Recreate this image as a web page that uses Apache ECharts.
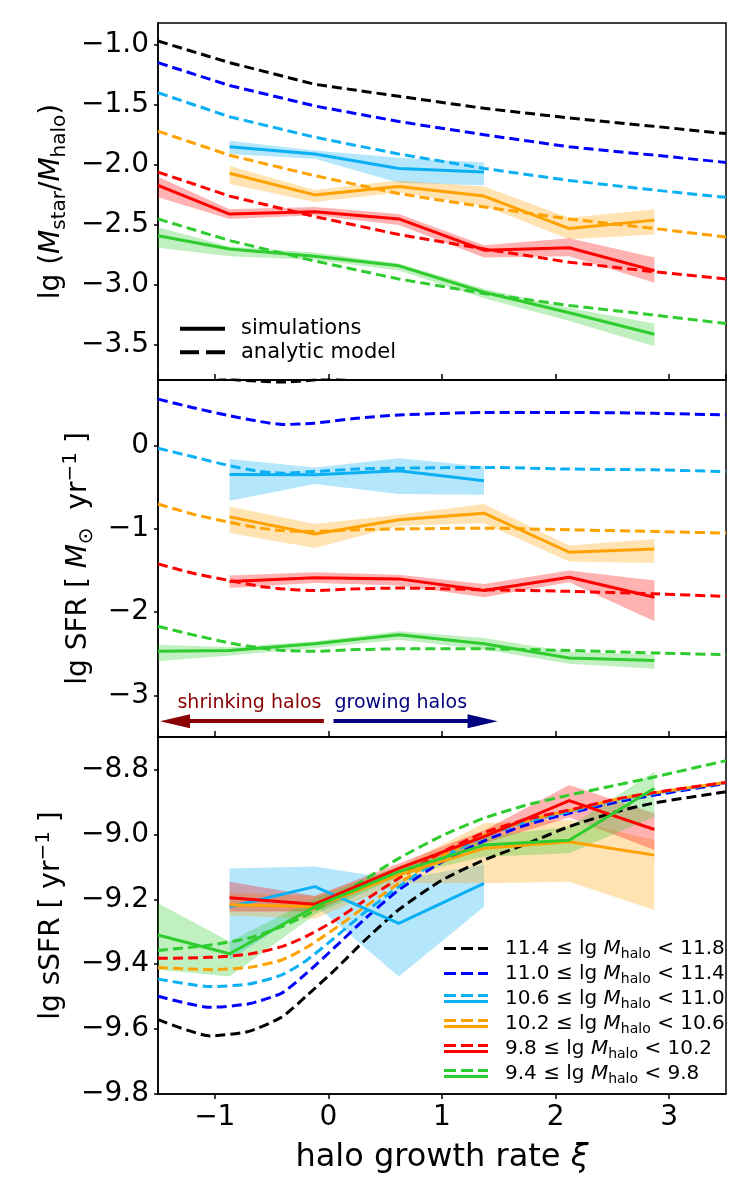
<!DOCTYPE html>
<html><head><meta charset="utf-8">
<script src="https://cdn.jsdelivr.net/npm/echarts@6/dist/echarts.min.js"></script>
<style>html,body{margin:0;padding:0;background:#fff}#c{width:750px;height:1200px}</style>
</head><body><div id="c"></div>
<script>
// ---------- DATA ----------
const binNames = ['11.4 ≤ lg Mhalo < 11.8','11.0 ≤ lg Mhalo < 11.4','10.6 ≤ lg Mhalo < 11.0','10.2 ≤ lg Mhalo < 10.6','9.8 ≤ lg Mhalo < 10.2','9.4 ≤ lg Mhalo < 9.8'];
const binLabelParts = [['11.4','11.8'],['11.0','11.4'],['10.6','11.0'],['10.2','10.6'],['9.8','10.2'],['9.4','9.8']];

// x positions of simulation bins (halo growth rate xi)
const xSim = [-1.5, -0.87, -0.12, 0.62, 1.37, 2.12, 2.87];

// Panel 1: lg(Mstar/Mhalo) analytic model
const xModelRatio = [-1.5, -0.87, -0.12, 0.62, 1.37, 2.12, 2.87, 3.5];
const ratioModelBin0 = [-0.97, -1.15, -1.33, -1.43, -1.53, -1.61, -1.68, -1.74];
const ratioModelBin1 = [-1.15, -1.34, -1.51, -1.64, -1.75, -1.85, -1.92, -1.98];
const ratioModelBin2 = [-1.40, -1.60, -1.77, -1.91, -2.03, -2.13, -2.21, -2.27];
const ratioModelBin3 = [-1.72, -1.92, -2.09, -2.24, -2.35, -2.45, -2.53, -2.60];
const ratioModelBin4 = [-2.06, -2.26, -2.43, -2.58, -2.70, -2.81, -2.89, -2.95];
const ratioModelBin5 = [-2.45, -2.63, -2.80, -2.95, -3.07, -3.17, -3.25, -3.32];
// Panel 1 simulations (median, lower, upper)
const ratioSimBin2   = [null, -1.85, -1.91, -2.03, -2.06, null, null];
const ratioSimBin2Lo = [null, -1.91, -1.95, -2.15, -2.17, null, null];
const ratioSimBin2Hi = [null, -1.80, -1.88, -1.94, -1.98, null, null];
const ratioSimBin3   = [null, -2.07, -2.25, -2.18, -2.26, -2.53, -2.46];
const ratioSimBin3Lo = [null, -2.16, -2.31, -2.23, -2.34, -2.62, -2.58];
const ratioSimBin3Hi = [null, -2.01, -2.21, -2.13, -2.18, -2.44, -2.37];
const ratioSimBin4   = [-2.17, -2.41, -2.39, -2.45, -2.71, -2.69, -2.88];
const ratioSimBin4Lo = [-2.27, -2.45, -2.42, -2.50, -2.77, -2.76, -2.98];
const ratioSimBin4Hi = [-2.10, -2.37, -2.35, -2.41, -2.67, -2.61, -2.77];
const ratioSimBin5   = [-2.59, -2.70, -2.76, -2.84, -3.06, -3.23, -3.41];
const ratioSimBin5Lo = [-2.69, -2.76, -2.79, -2.88, -3.11, -3.30, -3.51];
const ratioSimBin5Hi = [-2.52, -2.68, -2.73, -2.82, -3.03, -3.19, -3.32];

// Panel 2: lg SFR analytic model
const xModelSFR = [-1.5, -1.2, -0.87, -0.6, -0.4, -0.13, 0.25, 0.62, 1.37, 2.12, 2.87, 3.5];
const sfrModelBin0 = [1.00, 0.90, 0.80, 0.775, 0.765, 0.79, 0.84, 0.88, 0.92, 0.93, 0.92, 0.90];
const sfrModelBin1 = [0.56, 0.46, 0.36, 0.29, 0.255, 0.27, 0.33, 0.37, 0.40, 0.40, 0.39, 0.37];
const sfrModelBin2 = [-0.03, -0.13, -0.24, -0.31, -0.33, -0.31, -0.28, -0.27, -0.26, -0.28, -0.29, -0.31];
const sfrModelBin3 = [-0.70, -0.82, -0.92, -0.99, -1.02, -1.03, -1.01, -1.00, -0.99, -1.01, -1.03, -1.05];
const sfrModelBin4 = [-1.42, -1.53, -1.62, -1.69, -1.72, -1.74, -1.72, -1.71, -1.73, -1.75, -1.78, -1.81];
const sfrModelBin5 = [-2.17, -2.27, -2.37, -2.43, -2.46, -2.47, -2.45, -2.44, -2.44, -2.46, -2.49, -2.51];
// Panel 2 simulations
const sfrSimBin2   = [null, -0.345, -0.35, -0.30, -0.42, null, null];
const sfrSimBin2Lo = [null, -0.66, -0.46, -0.58, -0.59, null, null];
const sfrSimBin2Hi = [null, -0.16, -0.26, -0.15, -0.25, null, null];
const sfrSimBin3   = [null, -0.855, -1.06, -0.89, -0.81, -1.28, -1.24];
const sfrSimBin3Lo = [null, -1.05, -1.23, -0.96, -0.93, -1.39, -1.41];
const sfrSimBin3Hi = [null, -0.73, -0.94, -0.83, -0.70, -1.20, -1.12];
const sfrSimBin4   = [null, -1.63, -1.585, -1.60, -1.74, -1.58, -1.82];
const sfrSimBin4Lo = [null, -1.71, -1.65, -1.68, -1.82, -1.64, -2.11];
const sfrSimBin4Hi = [null, -1.56, -1.52, -1.55, -1.66, -1.50, -1.62];
const sfrSimBin5   = [-2.47, -2.46, -2.38, -2.27, -2.38, -2.55, -2.58];
const sfrSimBin5Lo = [-2.59, -2.52, -2.43, -2.33, -2.45, -2.62, -2.68];
const sfrSimBin5Hi = [-2.39, -2.42, -2.35, -2.23, -2.31, -2.48, -2.51];

// Panel 3: lg sSFR analytic model
const xModelSSFR = [-1.5, -1.04, -0.7, -0.41, -0.2, 0.05, 0.31, 0.62, 1.0, 1.37, 1.74, 2.12, 2.54, 2.87, 3.5];
const ssfrModelBin0 = [-9.571, -9.621, -9.607, -9.563, -9.500, -9.420, -9.330, -9.232, -9.141, -9.079, -9.030, -8.976, -8.930, -8.903, -8.869];
const ssfrModelBin1 = [-9.499, -9.533, -9.522, -9.489, -9.430, -9.350, -9.264, -9.171, -9.085, -9.020, -8.971, -8.935, -8.900, -8.879, -8.843];
const ssfrModelBin2 = [-9.446, -9.469, -9.461, -9.433, -9.390, -9.320, -9.243, -9.161, -9.072, -9.007, -8.961, -8.930, -8.894, -8.874, -8.841];
const ssfrModelBin3 = [-9.410, -9.417, -9.410, -9.387, -9.350, -9.292, -9.226, -9.151, -9.066, -9.003, -8.958, -8.927, -8.892, -8.872, -8.840];
const ssfrModelBin4 = [-9.382, -9.379, -9.369, -9.346, -9.315, -9.267, -9.206, -9.135, -9.055, -8.995, -8.954, -8.925, -8.891, -8.871, -8.840];
const ssfrModelBin5 = [-9.358, -9.341, -9.320, -9.284, -9.250, -9.200, -9.141, -9.074, -9.004, -8.950, -8.910, -8.879, -8.848, -8.823, -8.773];
// Panel 3 simulations
const ssfrSimBin2   = [null, -9.223, -9.161, -9.274, -9.151, null, null];
const ssfrSimBin2Lo = [null, -9.387, -9.217, -9.438, -9.223, null, null];
const ssfrSimBin2Hi = [null, -9.105, -9.099, -9.140, -9.092, null, null];
const ssfrSimBin3   = [null, -9.217, -9.223, -9.125, -9.043, -9.023, -9.064];
const ssfrSimBin3Lo = [null, -9.250, -9.260, -9.150, -9.151, -9.146, -9.233];
const ssfrSimBin3Hi = [null, -9.180, -9.190, -9.100, -8.966, -8.956, -9.017];
const ssfrSimBin4   = [null, -9.195, -9.215, -9.105, -9.007, -8.896, -8.985];
const ssfrSimBin4Lo = [null, -9.238, -9.238, -9.122, -9.028, -8.948, -9.048];
const ssfrSimBin4Hi = [null, -9.146, -9.190, -9.090, -8.987, -8.848, -8.935];
const ssfrSimBin5   = [-9.310, -9.368, -9.223, -9.115, -9.033, -9.018, -8.858];
const ssfrSimBin5Lo = [-9.417, -9.438, -9.248, -9.130, -9.069, -9.058, -8.946];
const ssfrSimBin5Hi = [-9.212, -9.330, -9.197, -9.099, -9.007, -8.976, -8.807];

// Annotation arrows (panel 2), in data coordinates
const arrowY = -3.31;
const shrinkArrowX = [-1.35, -0.04];
const growArrowX = [0.045, 1.357];

// ---------- STYLE ----------
const FONT = 'DejaVu Sans';
const binColors = ['#000000', '#0000ff', '#0bb0f4', '#ffa200', '#ff0000', '#2ecc2e'];
const bandColors = [null, null, 'rgba(11,176,244,0.3)', 'rgba(255,162,0,0.3)', 'rgba(255,0,0,0.3)', 'rgba(46,204,46,0.3)'];

const panels = [
  { xm: xModelRatio, models: [ratioModelBin0, ratioModelBin1, ratioModelBin2, ratioModelBin3, ratioModelBin4, ratioModelBin5],
    sims: [null, null, [ratioSimBin2, ratioSimBin2Lo, ratioSimBin2Hi], [ratioSimBin3, ratioSimBin3Lo, ratioSimBin3Hi], [ratioSimBin4, ratioSimBin4Lo, ratioSimBin4Hi], [ratioSimBin5, ratioSimBin5Lo, ratioSimBin5Hi]], smooth: false },
  { xm: xModelSFR, models: [sfrModelBin0, sfrModelBin1, sfrModelBin2, sfrModelBin3, sfrModelBin4, sfrModelBin5],
    sims: [null, null, [sfrSimBin2, sfrSimBin2Lo, sfrSimBin2Hi], [sfrSimBin3, sfrSimBin3Lo, sfrSimBin3Hi], [sfrSimBin4, sfrSimBin4Lo, sfrSimBin4Hi], [sfrSimBin5, sfrSimBin5Lo, sfrSimBin5Hi]], smooth: 0.2 },
  { xm: xModelSSFR, models: [ssfrModelBin0, ssfrModelBin1, ssfrModelBin2, ssfrModelBin3, ssfrModelBin4, ssfrModelBin5],
    sims: [null, null, [ssfrSimBin2, ssfrSimBin2Lo, ssfrSimBin2Hi], [ssfrSimBin3, ssfrSimBin3Lo, ssfrSimBin3Hi], [ssfrSimBin4, ssfrSimBin4Lo, ssfrSimBin4Hi], [ssfrSimBin5, ssfrSimBin5Lo, ssfrSimBin5Hi]], smooth: 0.2 }
];

function pairs(xs, ys) {
  const out = [];
  xs.forEach((x, i) => { if (ys[i] !== null && ys[i] !== undefined) out.push([x, ys[i]]); });
  return out;
}
function lineSeries(name, g, data, color, dashed, smooth) {
  return { name, type: 'line', xAxisIndex: g, yAxisIndex: g, data, showSymbol: false, symbol: 'none',
    smooth: smooth || false, clip: true, silent: true, z: dashed ? 3 : 4,
    lineStyle: { color, width: 3, type: dashed ? [10, 5] : 'solid', cap: 'butt', join: 'round' }, itemStyle: { color } };
}
function bandSeries(g, xs, lo, hi, fill) {
  const items = [];
  xs.forEach((x, i) => { if (lo[i] !== null && hi[i] !== null) items.push([x, lo[i], hi[i]]); });
  return { type: 'custom', xAxisIndex: g, yAxisIndex: g, data: items, silent: true, z: 2, clip: true,
    encode: { x: 0, y: [1, 2] },
    renderItem: (params, api) => {
      if (params.dataIndex !== 0) return null;
      const up = items.map(d => api.coord([d[0], d[2]]));
      const dn = items.map(d => api.coord([d[0], d[1]])).reverse();
      return { type: 'polygon', shape: { points: up.concat(dn) }, style: { fill: fill } };
    } };
}

const series = [];
panels.forEach((p, g) => {
  p.sims.forEach((s, b) => { if (s) series.push(bandSeries(g, xSim, s[1], s[2], bandColors[b])); });
  p.models.forEach((m, b) => series.push(lineSeries(binNames[b], g, pairs(p.xm, m), binColors[b], true, p.smooth)));
  p.sims.forEach((s, b) => { if (s) series.push(lineSeries(binNames[b], g, pairs(xSim, s[0]), binColors[b], false, false)); });
});
// dummy series for top legend
series.push({ name: 'simulations', type: 'line', xAxisIndex: 0, yAxisIndex: 0, data: [], itemStyle: { color: '#000' }, lineStyle: { color: '#000' } });
series.push({ name: 'analytic model', type: 'line', xAxisIndex: 0, yAxisIndex: 0, data: [], itemStyle: { color: '#000' }, lineStyle: { color: '#000' } });
// arrows
series.push({ type: 'line', xAxisIndex: 1, yAxisIndex: 1, data: [[-1.5, -9]], symbol: 'none', showSymbol: false, lineStyle: { width: 0 }, silent: true,
  markLine: { silent: true, animation: false, symbolSize: [14, 30],
    data: [
      [{ coord: [shrinkArrowX[0], arrowY], symbol: 'triangle', lineStyle: { color: '#8b0000', width: 4, type: 'solid' }, itemStyle: { color: '#8b0000' },
         label: { show: true, position: 'insideMiddleTop', formatter: 'shrinking halos', color: '#8b0000', fontSize: 19, fontFamily: FONT, distance: 9 } },
       { coord: [shrinkArrowX[1], arrowY], symbol: 'none' }],
      [{ coord: [growArrowX[0], arrowY], symbol: 'none', lineStyle: { color: '#000080', width: 4, type: 'solid' }, itemStyle: { color: '#000080' },
         label: { show: true, position: 'insideStartTop', formatter: 'growing halos', color: '#000080', fontSize: 19, fontFamily: FONT, distance: [1, 9] } },
       { coord: [growArrowX[1], arrowY], symbol: 'triangle' }]
    ] } });

function minus(v, d) { const s = Math.abs(v).toFixed(d); return (v < 0 && Number(s) !== 0 ? '−' : '') + s; }

const gridTops = [23, 380, 737];
const grids = gridTops.map(t => ({ left: 158, width: 568, top: t, height: 357, show: true, borderColor: '#000', borderWidth: 1.5, backgroundColor: 'transparent' }));

const xAxes = [0, 1, 2].map(i => ({
  type: 'value', gridIndex: i, min: -1.5, max: 3.5,
  axisLine: { show: true, onZero: false, lineStyle: { color: '#000', width: 1.5 } },
  axisTick: { show: true, inside: i < 2, length: i < 2 ? 6 : 5, lineStyle: { color: '#000', width: 1.5 } },
  axisLabel: { show: i === 2, fontSize: 28, color: '#000', fontFamily: FONT, margin: 10, showMinLabel: false, showMaxLabel: false, formatter: v => minus(v, 0) },
  splitLine: { show: false },
  name: i === 2 ? 'halo growth rate {i|ξ}' : '', nameLocation: 'middle', nameGap: 48,
  nameTextStyle: { fontSize: 32, color: '#000', fontFamily: FONT, rich: { i: { fontSize: 32, fontStyle: 'italic', fontFamily: FONT, color: '#000' } } }
}));

const yCfg = [
  { min: -3.79, max: -0.82, d: 1, name: 'lg ({i|M}{sub|star}/{i|M}{sub|halo})', gap: 75, hideMin: true },
  { min: -3.5, max: 0.79, d: 0, name: 'lg SFR [ {i|M}{sub|⊙}  yr{sup|−1} ]', gap: 54, hideMin: true },
  { min: -9.8, max: -8.7, d: 1, name: 'lg sSFR [ yr{sup|−1} ]', gap: 70, hideMin: false }
];
const yAxes = yCfg.map((c, i) => ({
  type: 'value', gridIndex: i, min: c.min, max: c.max,
  axisLine: { show: true, onZero: false, lineStyle: { color: '#000', width: 1.5 } },
  axisTick: { show: true, inside: false, length: 4, lineStyle: { color: '#000', width: 1.5 } },
  axisLabel: { fontSize: 28, color: '#000', fontFamily: FONT, margin: 9, showMinLabel: !c.hideMin, showMaxLabel: false, formatter: v => minus(v, c.d) },
  splitLine: { show: false },
  name: c.name, nameLocation: 'middle', nameRotate: 90, nameGap: c.gap,
  nameTextStyle: { fontSize: 28, color: '#000', fontFamily: FONT, lineHeight: 36,
    rich: {
      i: { fontSize: 28, fontStyle: 'italic', fontFamily: FONT, color: '#000', lineHeight: 36 },
      sub: { fontSize: 20, fontFamily: FONT, color: '#000', lineHeight: 20, verticalAlign: 'bottom' },
      sup: { fontSize: 20, fontFamily: FONT, color: '#000', lineHeight: 20, verticalAlign: 'top' }
    } }
}));

const dash3 = 'path://M0,0 M44,9 M0,3H12V6H0Z M17,3H29V6H17Z M34,3H44V6H34Z';
const dash3solid = 'path://M0,0H12V3H0Z M17,0H29V3H17Z M34,0H44V3H34Z M0,6H44V9H0Z';

const chart = echarts.init(document.getElementById('c'), null, { renderer: 'canvas' });
chart.setOption({
  animation: false,
  backgroundColor: '#fff',
  textStyle: { fontFamily: FONT },
  grid: grids, xAxis: xAxes, yAxis: yAxes,
  legend: [
    { selectedMode: false, orient: 'vertical', left: 175, top: 312, itemWidth: 45, itemHeight: 4, itemGap: 0,
      itemStyle: { borderWidth: 0 }, lineStyle: { width: 0 },
      textStyle: { fontSize: 21, color: '#000', fontFamily: FONT, lineHeight: 23.5, padding: [0, 0, 0, 11] },
      data: [
        { name: 'simulations', icon: 'path://M0,0H45V4H0Z', itemStyle: { color: '#000' } },
        { name: 'analytic model', icon: 'path://M0,0H19V4H0Z M26,0H45V4H26Z', itemStyle: { color: '#000' } }
      ] },
    { selectedMode: false, orient: 'vertical', left: 439, top: 931, itemWidth: 44, itemHeight: 9, itemGap: 0,
      itemStyle: { borderWidth: 0 }, lineStyle: { width: 0 },
      formatter: name => { const k = binNames.indexOf(name); const p = binLabelParts[k]; return p[0] + ' ≤ lg {i|M}{sub|halo} < ' + p[1]; },
      textStyle: { fontSize: 20, color: '#000', fontFamily: FONT, lineHeight: 25, padding: [0, 0, 0, 12],
        rich: { i: { fontSize: 20, fontStyle: 'italic', fontFamily: FONT, color: '#000', lineHeight: 25 },
                sub: { fontSize: 14, fontFamily: FONT, color: '#000', lineHeight: 14, verticalAlign: 'bottom' } } },
      data: binNames.map((n, b) => ({ name: n, icon: b < 2 ? dash3 : dash3solid, itemStyle: { color: binColors[b] } })) }
  ],
  series
});
</script></body></html>
